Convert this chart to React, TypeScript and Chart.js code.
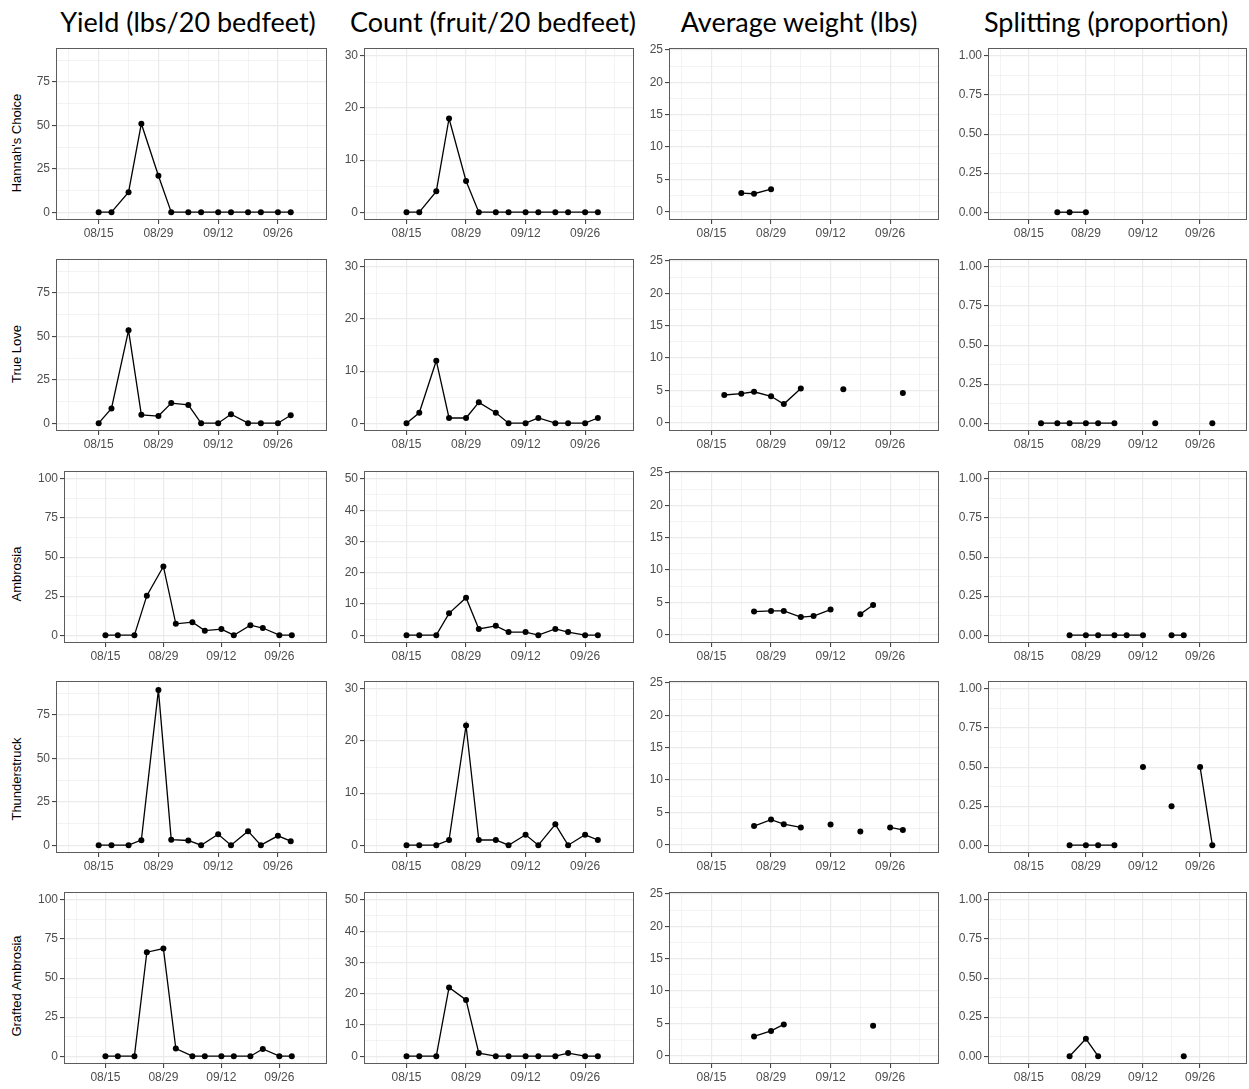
import React, { useEffect, useRef } from 'react';
import { Chart, registerables } from 'chart.js';

Chart.register(...registerables);

// ---------------- data ----------------
const harvestDates = ['08/15', '08/18', '08/22', '08/25', '08/29', '09/01', '09/05', '09/08', '09/12', '09/15', '09/19', '09/22', '09/26', '09/29'];
const xTickLabels = ['08/15', '08/29', '09/12', '09/26'];

const varieties = ["Hannah's Choice", 'True Love', 'Ambrosia', 'Thunderstruck', 'Grafted Ambrosia'];
const metricTitles = ['Yield (lbs/20 bedfeet)', 'Count (fruit/20 bedfeet)', 'Average weight (lbs)', 'Splitting (proportion)'];

const yieldHannahsChoice = [0, 0, 11.5, 51, 21, 0, 0, 0, 0, 0, 0, 0, 0, 0];
const yieldTrueLove = [0, 8.5, 53.5, 4.8, 4.1, 11.6, 10.5, 0, 0, 5.2, 0, 0, 0, 4.6];
const yieldAmbrosia = [0, 0, 0, 25.3, 44, 7.3, 8.3, 2.9, 3.9, 0, 6.4, 4.6, 0, 0];
const yieldThunderstruck = [0, 0, 0, 2.9, 89.5, 3.2, 2.7, 0, 6.3, 0, 8.1, 0, 5.4, 2.3];
const yieldGraftedAmbrosia = [0, 0, 0, 66.6, 68.9, 4.85, 0, 0, 0, 0, 0, 4.64, 0, 0];

const countHannahsChoice = [0, 0, 4, 18, 6, 0, 0, 0, 0, 0, 0, 0, 0, 0];
const countTrueLove = [0, 2, 12, 1, 1, 4, 2, 0, 0, 1, 0, 0, 0, 1];
const countAmbrosia = [0, 0, 0, 7, 12, 2, 3, 1, 1, 0, 2, 1, 0, 0];
const countThunderstruck = [0, 0, 0, 1, 23, 1, 1, 0, 2, 0, 4, 0, 2, 1];
const countGraftedAmbrosia = [0, 0, 0, 22, 18, 1, 0, 0, 0, 0, 0, 1, 0, 0];

const weightHannahsChoice = [null, null, 2.9, 2.8, 3.5, null, null, null, null, null, null, null, null, null];
const weightTrueLove = [null, 4.3, 4.5, 4.8, 4.1, 2.9, 5.3, null, null, 5.2, null, null, null, 4.6];
const weightAmbrosia = [null, null, null, 3.6, 3.7, 3.7, 2.75, 2.9, 3.9, null, 3.2, 4.6, null, null];
const weightThunderstruck = [null, null, null, 2.9, 3.9, 3.2, 2.7, null, 3.15, null, 2.05, null, 2.7, 2.3];
const weightGraftedAmbrosia = [null, null, null, 3.0, 3.85, 4.85, null, null, null, null, null, 4.65, null, null];

const splitHannahsChoice = [null, null, 0, 0, 0, null, null, null, null, null, null, null, null, null];
const splitTrueLove = [null, 0, 0, 0, 0, 0, 0, null, null, 0, null, null, null, 0];
const splitAmbrosia = [null, null, null, 0, 0, 0, 0, 0, 0, null, 0, 0, null, null];
const splitThunderstruck = [null, null, null, 0, 0, 0, 0, null, 0.5, null, 0.25, null, 0.5, 0];
const splitGraftedAmbrosia = [null, null, null, 0, 0.111, 0, null, null, null, null, null, 0, null, null];

const yieldTicksSmall = [0, 25, 50, 75];
const yieldTicksLarge = [0, 25, 50, 75, 100];
const countTicksSmall = [0, 10, 20, 30];
const countTicksLarge = [0, 10, 20, 30, 40, 50];
const weightTicks = [0, 5, 10, 15, 20, 25];
const splitTicks = [0, 0.25, 0.5, 0.75, 1];

const yieldRangeSmall = [-4.5, 94.5];
const yieldRangeLarge = [-5, 105];
const countRangeSmall = [-1.5, 31.5];
const countRangeLarge = [-2.5, 52.5];
const weightRange = [-1.25, 25.25];
const splitRange = [-0.05, 1.05];

const xRange = [-10, 53.5]; // days relative to 08/15

const seriesByMetric = [
  [yieldHannahsChoice, yieldTrueLove, yieldAmbrosia, yieldThunderstruck, yieldGraftedAmbrosia],
  [countHannahsChoice, countTrueLove, countAmbrosia, countThunderstruck, countGraftedAmbrosia],
  [weightHannahsChoice, weightTrueLove, weightAmbrosia, weightThunderstruck, weightGraftedAmbrosia],
  [splitHannahsChoice, splitTrueLove, splitAmbrosia, splitThunderstruck, splitGraftedAmbrosia],
];

// ---------------- layout ----------------
const COL_LEFT = [56, 364, 669, 988];
const COL_LEFT_WIDE = [64, 364, 669, 988];
const COL_RIGHT = [327, 634, 939, 1247];
const ROW_TOP = [47, 258, 470, 680, 891];
const ROW_BOTTOM = [220, 431, 643, 853, 1064];
const TITLE_X = [188, 493, 799, 1106];
const ROWLABEL_Y = [143, 354, 574, 779, 986];

const AX_W = 44;
const AX_H = 26;
const PAD = 8;

function dayOf(md: string) {
  const [m, d] = md.split('/').map(Number);
  return Math.round((Date.UTC(2023, m - 1, d) - Date.UTC(2023, 7, 15)) / 86400000);
}

function minorsOf(major: number[], min: number, max: number) {
  const step = major[1] - major[0];
  const out: number[] = [];
  if (major[0] - step / 2 >= min) out.push(major[0] - step / 2);
  for (let i = 0; i < major.length - 1; i++) out.push((major[i] + major[i + 1]) / 2);
  const last = major[major.length - 1] + step / 2;
  if (last <= max) out.push(last);
  return out;
}

function axisCfg(min: number, max: number, major: number[], fmt: (v: number) => string, isX: boolean) {
  const minor = minorsOf(major, min, max);
  const all = [...major, ...minor].sort((a, b) => a - b);
  const isMajor = (v: any) => typeof v === 'number' && major.some((m) => Math.abs(m - v) < 1e-9);
  return {
    type: 'linear',
    min,
    max,
    afterBuildTicks: (s: any) => {
      s.ticks = all.map((v) => ({ value: v }));
    },
    afterFit: (s: any) => {
      if (isX) s.height = AX_H;
      else s.width = AX_W;
    },
    ticks: {
      autoSkip: false,
      maxRotation: 0,
      minRotation: 0,
      padding: 2,
      color: '#4D4D4D',
      font: { family: 'Liberation Sans, Arial, sans-serif', size: 12 },
      callback: (v: any) => (isMajor(v) ? fmt(v) : ''),
    },
    grid: {
      color: '#EBEBEB',
      lineWidth: (ctx: any) => (isMajor(ctx.tick && ctx.tick.value) ? 1.2 : 0.6),
      tickColor: (ctx: any) => (isMajor(ctx.tick && ctx.tick.value) ? '#333333' : 'rgba(0,0,0,0)'),
      tickWidth: 1,
      tickLength: 4,
      drawTicks: true,
      drawOnChartArea: true,
    },
    border: { display: false },
  };
}

const borderPlugin = {
  id: 'panelBorder',
  afterDraw(chart: any) {
    const { ctx, chartArea } = chart;
    const l = Math.round(chartArea.left);
    const t = Math.round(chartArea.top);
    const r = Math.round(chartArea.right);
    const b = Math.round(chartArea.bottom);
    ctx.save();
    ctx.strokeStyle = '#5c5c5c';
    ctx.lineWidth = 1;
    ctx.strokeRect(l + 0.5, t + 0.5, r - l - 1, b - t - 1);
    ctx.restore();
  },
};

type PanelSpec = {
  key: string;
  left: number;
  top: number;
  width: number;
  height: number;
  values: (number | null)[];
  yRange: number[];
  yTicks: number[];
  fmt: (v: number) => string;
};

function buildPanels(): PanelSpec[] {
  const out: PanelSpec[] = [];
  for (let r = 0; r < varieties.length; r++) {
    const large = r === 2 || r === 4;
    for (let c = 0; c < 4; c++) {
      const pl = (large ? COL_LEFT_WIDE : COL_LEFT)[c];
      const pr = COL_RIGHT[c];
      const pt = ROW_TOP[r];
      const pb = ROW_BOTTOM[r];
      let yRange: number[];
      let yTicks: number[];
      let fmt = (v: number) => String(v);
      if (c === 0) {
        yRange = large ? yieldRangeLarge : yieldRangeSmall;
        yTicks = large ? yieldTicksLarge : yieldTicksSmall;
      } else if (c === 1) {
        yRange = large ? countRangeLarge : countRangeSmall;
        yTicks = large ? countTicksLarge : countTicksSmall;
      } else if (c === 2) {
        yRange = weightRange;
        yTicks = weightTicks;
      } else {
        yRange = splitRange;
        yTicks = splitTicks;
        fmt = (v: number) => v.toFixed(2);
      }
      out.push({
        key: `${r}-${c}`,
        left: pl - AX_W,
        top: pt - PAD,
        width: pr - pl + AX_W + PAD,
        height: pb - pt + PAD + AX_H,
        values: seriesByMetric[c][r],
        yRange,
        yTicks,
        fmt,
      });
    }
  }
  return out;
}

const panels = buildPanels();

export default function App() {
  const refs = useRef<(HTMLCanvasElement | null)[]>([]);

  useEffect(() => {
    const xDays = harvestDates.map(dayOf);
    const xMajor = xTickLabels.map(dayOf);
    const xFmt = (v: number) => {
      const i = xMajor.findIndex((m) => m === v);
      return i >= 0 ? xTickLabels[i] : '';
    };
    const charts: Chart[] = [];
    panels.forEach((p, i) => {
      const cv = refs.current[i];
      if (!cv) return;
      const chart = new Chart(cv, {
        type: 'line',
        data: {
          datasets: [
            {
              data: xDays.map((x, k) => ({ x, y: p.values[k] })) as any,
              borderColor: '#000000',
              borderWidth: 1.3,
              pointRadius: 3,
              pointHoverRadius: 3,
              pointBackgroundColor: '#000000',
              pointBorderWidth: 0,
              spanGaps: false,
              tension: 0,
              clip: false as any,
            },
          ],
        },
        options: {
          responsive: false,
          animation: false,
          devicePixelRatio: 1,
          events: [],
          layout: { padding: { top: PAD, right: PAD, left: 0, bottom: 0 } },
          plugins: { legend: { display: false }, tooltip: { enabled: false } },
          scales: {
            x: axisCfg(xRange[0], xRange[1], xMajor, xFmt, true) as any,
            y: axisCfg(p.yRange[0], p.yRange[1], p.yTicks, p.fmt, false) as any,
          },
        },
        plugins: [borderPlugin],
      });
      charts.push(chart);
    });
    return () => charts.forEach((c) => c.destroy());
  }, []);

  return (
    <div style={{ position: 'absolute', left: 0, top: 0, width: 1249, height: 1089, background: '#ffffff', overflow: 'hidden' }}>
      {metricTitles.map((t, c) => (
        <div
          key={'t' + c}
          style={{
            position: 'absolute',
            left: TITLE_X[c],
            top: 6,
            transform: 'translateX(-50%)',
            whiteSpace: 'nowrap',
            fontFamily: 'Lato, "Open Sans", sans-serif',
            fontSize: 27,
            lineHeight: '32px',
            color: '#000000',
          }}
        >
          {t}
        </div>
      ))}
      {varieties.map((v, r) => (
        <div
          key={'r' + r}
          style={{
            position: 'absolute',
            left: 17,
            top: ROWLABEL_Y[r],
            transform: 'translate(-50%, -50%) rotate(-90deg)',
            whiteSpace: 'nowrap',
            fontFamily: 'Liberation Sans, Arial, sans-serif',
            fontSize: 13,
            lineHeight: '14px',
            color: '#000000',
          }}
        >
          {v}
        </div>
      ))}
      {panels.map((p, i) => (
        <canvas
          key={p.key}
          ref={(el) => {
            refs.current[i] = el;
          }}
          width={p.width}
          height={p.height}
          style={{ position: 'absolute', left: p.left, top: p.top, width: p.width, height: p.height }}
        />
      ))}
    </div>
  );
}
